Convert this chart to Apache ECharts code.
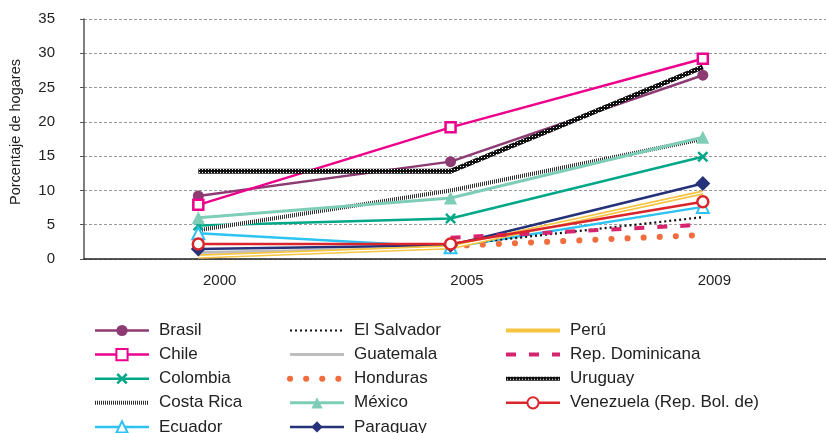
<!DOCTYPE html>
<html>
<head>
<meta charset="utf-8">
<script src="https://cdn.jsdelivr.net/npm/echarts@6/dist/echarts.min.js"></script>
<style>
html,body{margin:0;padding:0;background:#fff;}
#chart{width:826px;height:433px;}
</style>
</head>
<body>
<div id="chart"></div>
<script>
// ---- data ----
const years = ['2000', '2005', '2009'];
const yTicks = [0, 5, 10, 15, 20, 25, 30, 35];
const brasil = [9.2, 14.2, 26.8];
const chile = [7.9, 19.2, 29.2];
const colombia = [4.9, 5.9, 14.9];
const costaRica = [4.2, 10.0, 17.5];
const ecuador = [3.75, 1.7, 7.6];
const elSalvador = [null, 2.0, 6.1];
const guatemala = [0.95, 1.6, null];
const honduras = [null, 1.9, 3.5];
const mexico = [6.0, 8.9, 17.75];
const paraguay = [1.45, 2.0, 11.0];
const peru = [0.35, 1.7, 9.7];
const repDominicana = [null, 3.1, 5.0];
const uruguay = [12.8, 12.8, 28.0];
const venezuela = [2.2, 2.2, 8.35];

// ---- patterns ----
function makePattern(w, h, draw) {
  const c = document.createElement('canvas');
  c.width = w; c.height = h;
  const ctx = c.getContext('2d');
  draw(ctx);
  return { image: c, repeat: 'repeat' };
}
const stripePattern = makePattern(2, 2, ctx => {
  ctx.fillStyle = '#ffffff'; ctx.fillRect(0, 0, 2, 2);
  ctx.fillStyle = '#333333'; ctx.fillRect(0, 0, 1, 2);
});
const ringPattern = makePattern(3, 3, ctx => {
  ctx.fillStyle = '#111111'; ctx.fillRect(0, 0, 3, 3);
  ctx.fillStyle = '#ffffff'; ctx.fillRect(1, 1, 1, 1);
});

function pts(arr) {
  const out = [];
  arr.forEach((v, i) => { if (v !== null) out.push([i, v]); });
  return out;
}
const xSymbol = 'path://M0,1.6L1.6,0L5,3.4L8.4,0L10,1.6L6.6,5L10,8.4L8.4,10L5,6.6L1.6,10L0,8.4L3.4,5Z';

function line(name, data, color, width, extra) {
  return Object.assign({
    name: name, type: 'line', xAxisIndex: 1, data: pts(data),
    symbol: 'none', silent: true, animation: false,
    lineStyle: { color: color, width: width },
    itemStyle: { color: color }
  }, extra || {});
}

const series = [
  line('Brasil', brasil, '#8E3A73', 2.5, { symbol: 'circle', symbolSize: 11 }),
  line('Chile', chile, '#EC008C', 2.5, { symbol: 'rect', symbolSize: 10, itemStyle: { color: '#fff', borderColor: '#EC008C', borderWidth: 2.5 } }),
  line('Colombia', colombia, '#00A887', 2.5, { symbol: xSymbol, symbolSize: 11 }),
  line('Costa Rica', costaRica, stripePattern, 4, { itemStyle: { color: '#555' } }),
  line('Ecuador', ecuador, '#2CC3F2', 2.5, { symbol: 'triangle', symbolSize: 12, itemStyle: { color: '#fff', borderColor: '#2CC3F2', borderWidth: 2 } }),
  line('El Salvador', elSalvador, '#111', 2, { lineStyle: { color: '#111', width: 2.2, type: [2, 3] } }),
  line('Guatemala', guatemala, '#BDBDBD', 3),
  line('Honduras', honduras, '#F26D3D', 6, { lineStyle: { color: '#F26D3D', width: 6, type: [0.1, 16], cap: 'round' } }),
  line('México', mexico, '#7ECDB7', 3, { symbol: 'triangle', symbolSize: 13 }),
  line('Paraguay', paraguay, '#253178', 2.5, { symbol: 'diamond', symbolSize: 15 }),
  line('Perú', peru, '#F6C443', 4.5),
  line('PeruInner', peru, '#FFFFFF', 1.2),
  line('Rep. Dominicana', repDominicana, '#D6246E', 4, { lineStyle: { color: '#D6246E', width: 4, type: [10, 13] } }),
  line('Uruguay', uruguay, ringPattern, 5, { itemStyle: { color: '#111' } }),
  line('Venezuela (Rep. Bol. de)', venezuela, '#D9252B', 2.5, { symbol: 'circle', symbolSize: 11, itemStyle: { color: '#fff', borderColor: '#D9252B', borderWidth: 2.5 } })
];

function item(name, lineWidth, hide) {
  const o = { name: name, lineStyle: { width: lineWidth } };
  if (hide) o.itemStyle = { opacity: 0 };
  return o;
}

const legendCommon = {
  orient: 'vertical', top: 322, height: 140, padding: 0, itemWidth: 54, itemHeight: 14, itemGap: 7.1,
  selectedMode: false,
  textStyle: { fontFamily: 'Liberation Sans', fontSize: 17, color: '#222', lineHeight: 16, padding: [0, 0, 0, 5] }
};

const chart = echarts.init(document.getElementById('chart'), null, { renderer: 'canvas' });
chart.setOption({
  animation: false,
  backgroundColor: '#fff',
  textStyle: { fontFamily: 'Liberation Sans' },
  grid: { left: 84, right: -11, top: 19, bottom: 174, containLabel: false },
  graphic: [{
    type: 'text', x: 16, y: 132, rotation: Math.PI / 2,
    style: { text: 'Porcentaje de hogares', fontFamily: 'Liberation Sans', fontSize: 14.5, fill: '#222', align: 'center', verticalAlign: 'middle' }
  }],
  legend: [
    Object.assign({ left: 93, data: [item('Brasil', 2.5), item('Chile', 2.5), item('Colombia', 2.5), item('Costa Rica', 4, true), item('Ecuador', 2.5)] }, legendCommon),
    Object.assign({ left: 287, data: [item('El Salvador', 2.2, true), item('Guatemala', 3, true), item('Honduras', 6, true), item('México', 3), item('Paraguay', 2.5)] }, legendCommon),
    Object.assign({ left: 504, data: [item('Perú', 4, true), item('Rep. Dominicana', 4, true), item('Uruguay', 4, true), item('Venezuela (Rep. Bol. de)', 2.5)] }, legendCommon)
  ],
  xAxis: [
    {
      type: 'category', data: years, boundaryGap: true,
      axisLine: { lineStyle: { color: '#222', width: 1.5 } },
      axisTick: { inside: true, length: 7, lineStyle: { color: '#222', width: 1 } },
      axisLabel: { fontSize: 15, color: '#222', margin: 14, padding: [0, 0, 0, 24] },
      splitLine: { show: false }
    },
    { type: 'value', min: -0.45312, max: 2.48827, show: false, splitLine: { show: false } }
  ],
  yAxis: {
    type: 'value', min: yTicks[0], max: yTicks[yTicks.length - 1], interval: 5,
    axisLine: { show: true, onZero: false, lineStyle: { color: '#555', width: 1.5 } },
    axisTick: { show: true, inside: false, length: 4, lineStyle: { color: '#555' } },
    axisLabel: { fontSize: 15, color: '#222', margin: 29 },
    splitLine: { show: true, lineStyle: { color: '#9a9a9a', type: [3, 2], width: 1 } }
  },
  series: series
});
</script>
</body>
</html>
